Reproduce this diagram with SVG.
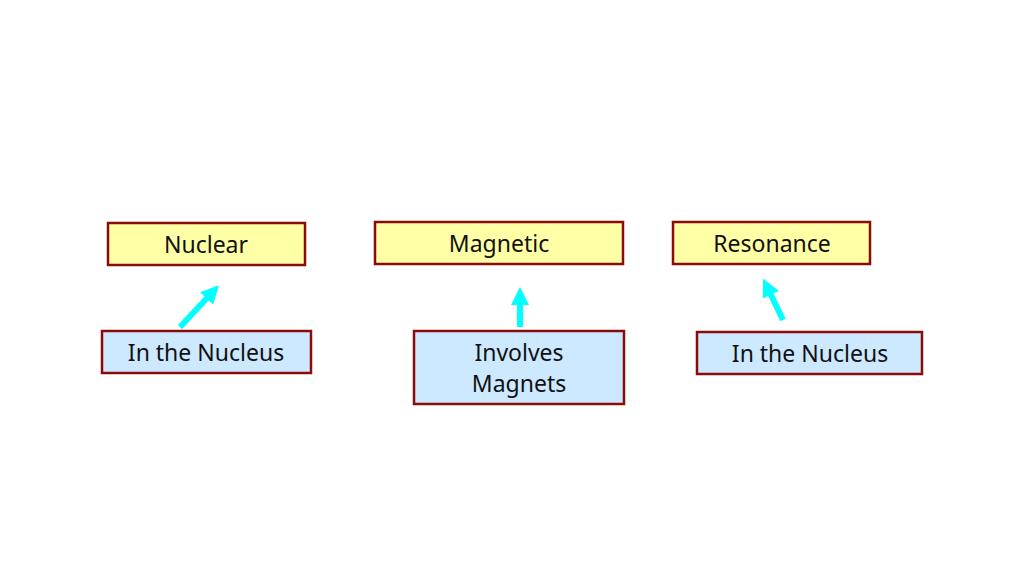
<svg xmlns="http://www.w3.org/2000/svg" width="1024" height="576" viewBox="0 0 1024 576">
<style>
.y{fill:#FFFFA6;stroke:#8B0A0A;stroke-width:2.5}
.b{fill:#CCE9FF;stroke:#8B0A0A;stroke-width:2.5}
text{font-family:"Noto Sans","DejaVu Sans",sans-serif;font-size:23px;fill:#111;text-anchor:middle}
.a{stroke:#00FFFF;stroke-width:6;fill:none;marker-end:url(#h)}
</style>
<defs><marker id="h" markerUnits="userSpaceOnUse" markerWidth="20" markerHeight="20" refX="2" refY="9" viewBox="0 0 20 18" orient="auto"><path d="M0,0 L18,9 L0,18 Z" fill="#00FFFF"/></marker></defs>
<rect width="1024" height="576" fill="#fff"/>
<g id="nuclear"><rect class="y" x="108" y="223" width="197" height="42"/><text x="206" y="253">Nuclear</text></g>
<g id="magnetic"><rect class="y" x="375" y="222" width="248" height="42"/><text x="499" y="252">Magnetic</text></g>
<g id="resonance"><rect class="y" x="673" y="222" width="197" height="42"/><text x="772" y="252">Resonance</text></g>
<g id="nucleus1"><rect class="b" x="102" y="331" width="209" height="42"/><text x="206" y="361">In the Nucleus</text></g>
<g id="magnets"><rect class="b" x="414" y="331" width="210" height="73"/><text x="519" y="361">Involves</text><text x="519" y="392">Magnets</text></g>
<g id="nucleus2"><rect class="b" x="697" y="332" width="225" height="42"/><text x="810" y="362">In the Nucleus</text></g>
<g id="connectors">
<line class="a" x1="180" y1="327" x2="208" y2="297"/>
<line class="a" x1="520" y1="327" x2="520" y2="303"/>
<line class="a" x1="783" y1="320" x2="770" y2="293"/>
</g>
</svg>
